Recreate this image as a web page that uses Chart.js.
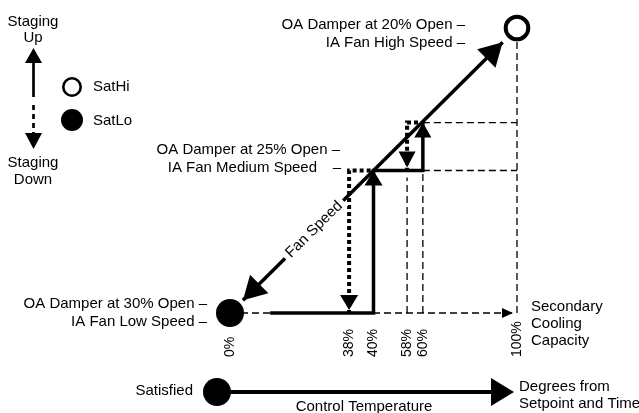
<!DOCTYPE html>
<html><head><meta charset="utf-8">
<script src="https://cdn.jsdelivr.net/npm/chart.js@4"></script>
<style>html,body{margin:0;padding:0;background:#fff;}#wrap{width:639px;height:413px;}</style>
</head><body><div id="wrap"><canvas id="c" width="639" height="413"></canvas></div>
<script>
// ---------------- data ----------------
const capacityLabels = ['0%', '38%', '40%', '58%', '60%', '100%'];
const capacityPos = [0, 41.5, 50, 61.7, 67.2, 100];      // diagram position of each capacity mark
const speedNames = ['Low', 'Medium', 'High'];
const speedLevels = [0, 1, 2];                            // fan speed level (y)
const stepLevel = 1.336;                                  // level reached at 60%
const damperLabels = ['OA Damper at 30% Open –', 'OA Damper at 25% Open –', 'OA Damper at 20% Open –'];
const fanLabels = ['IA Fan Low Speed –', 'IA Fan Medium Speed', 'IA Fan High Speed –'];
const fanSpeedStart = {x: 4.5, y: 0.09};
const fanSpeedEnd = {x: 95, y: 1.9};
const solidStart = 14;
const baselineEnd = 98.6;
const legendNames = ['SatHi', 'SatLo'];
const capacityTitle = ['Secondary', 'Cooling', 'Capacity'];

const P = i => capacityPos[i];
const L = i => speedLevels[i];
const BLACK = '#000';

const thin = {borderColor: BLACK, borderWidth: 1.3, borderDash: [7, 4], pointRadius: 0, showLine: true, order: 6, borderCapStyle: 'butt'};
const dotted = {borderColor: BLACK, borderWidth: 4, borderDash: [4, 3], pointRadius: 0, showLine: true, order: 4, borderCapStyle: 'butt', borderJoinStyle: 'miter'};
const thick = {borderColor: BLACK, borderWidth: 3.5, pointRadius: 0, showLine: true, order: 3, borderCapStyle: 'butt', borderJoinStyle: 'miter'};

const datasets = [
  Object.assign({label: 'baseline', data: [{x: P(0), y: L(0)}, {x: baselineEnd, y: L(0)}]}, thin),
  Object.assign({label: 'guide58', data: [{x: P(3), y: L(0)}, {x: P(3), y: 0.95}]}, thin),
  Object.assign({label: 'guide60', data: [{x: P(4), y: L(0)}, {x: P(4), y: L(1)}]}, thin),
  Object.assign({label: 'guide100', data: [{x: P(5), y: L(0)}, {x: P(5), y: L(2)}]}, thin),
  Object.assign({label: 'guideMedium', data: [{x: P(4), y: L(1)}, {x: P(5), y: L(1)}]}, thin),
  Object.assign({label: 'guideStep', data: [{x: P(4), y: stepLevel}, {x: P(5), y: stepLevel}]}, thin),
  Object.assign({label: 'stagingUp', data: [{x: solidStart, y: L(0)}, {x: P(2), y: L(0)}, {x: P(2), y: L(1)}, {x: P(4), y: L(1)}, {x: P(4), y: stepLevel}]}, thick),
  Object.assign({label: 'stagingDown1', data: [{x: P(2) - 1, y: L(1)}, {x: P(1), y: L(1)}, {x: P(1), y: L(0)}]}, dotted),
  Object.assign({label: 'stagingDown2', data: [{x: 65.5, y: stepLevel}, {x: P(3), y: stepLevel}, {x: P(3), y: L(1)}]}, dotted),
  Object.assign({label: 'fanSpeed', data: [fanSpeedStart, fanSpeedEnd]}, thick, {order: 2}),
  {label: 'SatLo', data: [{x: P(0), y: L(0)}], pointRadius: 14, pointBackgroundColor: BLACK, pointBorderWidth: 0, showLine: false, order: 0},
  {label: 'SatHi', data: [{x: P(5), y: L(2)}], pointRadius: 11.3, pointBackgroundColor: '#fff', pointBorderColor: BLACK, pointBorderWidth: 4, showLine: false, order: 0}
];

const arrows = [
  {from: {x: P(2), y: L(0)}, to: {x: P(2), y: L(1)}, len: 15, half: 9},
  {from: {x: P(4), y: L(1)}, to: {x: P(4), y: stepLevel}, len: 15, half: 8.5},
  {from: {x: P(1), y: L(1)}, to: {x: P(1), y: L(0)}, len: 15, half: 9, back: 3},
  {from: {x: P(3), y: stepLevel}, to: {x: P(3), y: L(1)}, len: 16, half: 8.5, back: 3},
  {from: {x: P(0), y: L(0)}, to: {x: baselineEnd, y: L(0)}, len: 11, half: 5},
  {from: fanSpeedStart, to: fanSpeedEnd, len: 23, half: 13},
  {from: fanSpeedEnd, to: fanSpeedStart, len: 23, half: 13}
];

const FONT = '"Liberation Sans", Arial, sans-serif';

function arrowHead(ctx, tx, ty, dx, dy, len, half) {
  const bx = tx - dx * len, by = ty - dy * len;
  ctx.beginPath();
  ctx.moveTo(tx, ty);
  ctx.lineTo(bx - dy * half, by + dx * half);
  ctx.lineTo(bx + dy * half, by - dx * half);
  ctx.closePath();
  ctx.fill();
}
function text(ctx, s, x, y, align, size) {
  ctx.font = (size || 15) + 'px ' + FONT;
  ctx.textAlign = align || 'left';
  ctx.textBaseline = 'middle';
  ctx.fillText(s, x, y);
}

const diagramPlugin = {
  id: 'diagram',
  afterDatasetsDraw(chart) {
    const ctx = chart.ctx, xs = chart.scales.x, ys = chart.scales.y;
    const px = p => ({x: xs.getPixelForValue(p.x), y: ys.getPixelForValue(p.y)});
    ctx.save();
    ctx.fillStyle = BLACK;
    ctx.strokeStyle = BLACK;

    // arrowheads on data lines
    arrows.forEach(a => {
      const f = px(a.from), t = px(a.to);
      let dx = t.x - f.x, dy = t.y - f.y;
      const d = Math.hypot(dx, dy); dx /= d; dy /= d;
      const b = a.back || 0;
      arrowHead(ctx, t.x - dx * b, t.y - dy * b, dx, dy, a.len, a.half);
    });

    // "Fan Speed" label on the diagonal
    const s = px(fanSpeedStart), e = px(fanSpeedEnd);
    const ang = Math.atan2(e.y - s.y, e.x - s.x);
    const c = px({x: 29.3, y: 0.586});
    ctx.save();
    ctx.translate(c.x, c.y);
    ctx.rotate(ang);
    ctx.fillStyle = '#fff';
    ctx.fillRect(-41, -7, 82, 14);
    ctx.fillStyle = BLACK;
    text(ctx, 'Fan Speed', 0, 0, 'center', 15);
    ctx.restore();

    // capacity tick labels (rotated)
    capacityLabels.forEach((lab, i) => {
      const x = xs.getPixelForValue(capacityPos[i]);
      ctx.save();
      ctx.translate(x, 357);
      ctx.rotate(-Math.PI / 2);
      text(ctx, lab, 0, 0, 'left', 14);
      ctx.restore();
    });

    // damper / fan labels
    text(ctx, damperLabels[2], 465, 25, 'right');
    text(ctx, fanLabels[2], 465, 43, 'right');
    text(ctx, damperLabels[1], 340, 150, 'right');
    text(ctx, fanLabels[1], 317, 168, 'right');
    text(ctx, '–', 337, 168, 'center');
    text(ctx, damperLabels[0], 207, 304, 'right');
    text(ctx, fanLabels[0], 207, 322, 'right');

    capacityTitle.forEach((t, i) => text(ctx, t, 531, 307 + i * 17, 'left'));

    // Staging legend (top-left)
    text(ctx, 'Staging', 33, 22, 'center');
    text(ctx, 'Up', 33, 38, 'center');
    text(ctx, 'Staging', 33, 163, 'center');
    text(ctx, 'Down', 33, 180, 'center');
    ctx.lineWidth = 2.7;
    ctx.beginPath(); ctx.moveTo(33.5, 62); ctx.lineTo(33.5, 97); ctx.stroke();
    arrowHead(ctx, 33.5, 48, 0, -1, 15, 8.5);
    ctx.setLineDash([5, 4]);
    ctx.beginPath(); ctx.moveTo(33.5, 105); ctx.lineTo(33.5, 134); ctx.stroke();
    ctx.setLineDash([]);
    arrowHead(ctx, 33.5, 149, 0, 1, 16, 8.5);

    // SatHi / SatLo legend
    ctx.lineWidth = 2.6;
    ctx.beginPath(); ctx.arc(72, 87, 8.7, 0, Math.PI * 2); ctx.stroke();
    ctx.beginPath(); ctx.arc(72, 120, 11, 0, Math.PI * 2); ctx.fill();
    text(ctx, legendNames[0], 93, 87, 'left');
    text(ctx, legendNames[1], 93, 121, 'left');

    // Control temperature axis
    ctx.beginPath(); ctx.arc(217, 392, 14, 0, Math.PI * 2); ctx.fill();
    ctx.lineWidth = 4;
    ctx.beginPath(); ctx.moveTo(217, 392); ctx.lineTo(492, 392); ctx.stroke();
    arrowHead(ctx, 514, 392, 1, 0, 23, 14);
    text(ctx, 'Satisfied', 193, 391, 'right');
    text(ctx, 'Control Temperature', 364, 407, 'center');
    text(ctx, 'Degrees from', 519, 387, 'left');
    text(ctx, 'Setpoint and Time', 519, 404, 'left');
    ctx.restore();
  }
};

// scales: 2.87 px per capacity unit, 142.5 px per speed level
new Chart(document.getElementById('c'), {
  type: 'scatter',
  data: {datasets},
  options: {
    responsive: false,
    animation: false,
    events: [],
    layout: {padding: 0, autoPadding: false},
    plugins: {legend: {display: false}, tooltip: {enabled: false}, title: {display: false}},
    elements: {line: {tension: 0}},
    scales: {
      x: {type: 'linear', min: -80.14, max: 142.51, display: false},
      y: {type: 'linear', min: -0.7018, max: 2.1965, display: false}
    }
  },
  plugins: [diagramPlugin]
});
</script>
</body></html>
